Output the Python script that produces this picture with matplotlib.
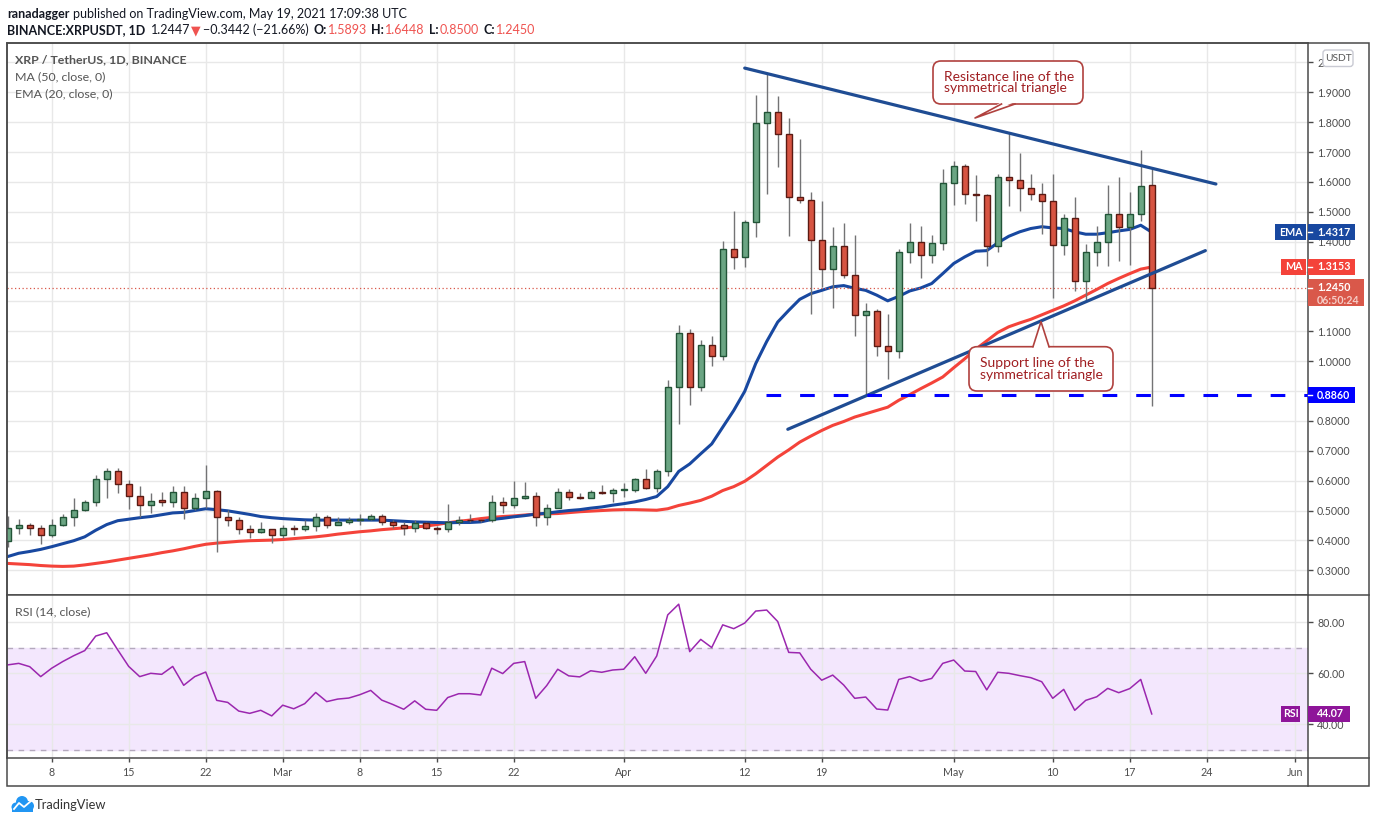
import numpy as np
import pandas as pd
import matplotlib
matplotlib.use("Agg")
import matplotlib.pyplot as plt
from matplotlib import transforms
from matplotlib.patches import FancyBboxPatch, Polygon, Circle, Rectangle
from matplotlib.lines import Line2D

W, H = 1376, 823
plt.rcParams['font.family'] = ['Lato', 'DejaVu Sans']

# ---- values (XRP/USDT daily, Binance) ----
dates = pd.date_range("2021-02-04", "2021-05-19", freq="D")

opens = [0.397, 0.443, 0.450, 0.443, 0.417, 0.450, 0.477, 0.503, 0.527, 0.607,
         0.633, 0.590, 0.550, 0.520, 0.534, 0.530, 0.563, 0.510, 0.543, 0.567,
         0.477, 0.467, 0.437, 0.427, 0.437,
         0.417, 0.443, 0.437, 0.447, 0.480, 0.453, 0.463, 0.467, 0.473, 0.483,
         0.460, 0.450, 0.440, 0.457, 0.440, 0.437, 0.460, 0.470, 0.470, 0.467,
         0.527, 0.517, 0.543, 0.550, 0.480, 0.510, 0.563, 0.547, 0.543, 0.563,
         0.560,
         0.570, 0.570, 0.607, 0.577, 0.632, 0.913, 1.094, 0.913, 1.055, 1.018,
         1.374, 1.350, 1.466, 1.796, 1.835, 1.759, 1.549, 1.541, 1.407, 1.310,
         1.384, 1.290, 1.156, 1.169, 1.050, 1.035, 1.364, 1.400, 1.357, 1.397,
         1.598, 1.652, 1.561, 1.555, 1.386, 1.615, 1.605, 1.580, 1.561, 1.535,
         1.390, 1.478, 1.270, 1.364, 1.400, 1.491, 1.450, 1.494, 1.5893]
highs = [0.481, 0.471, 0.457, 0.450, 0.471, 0.490, 0.541, 0.534, 0.618, 0.641,
         0.641, 0.603, 0.581, 0.558, 0.561, 0.581, 0.581, 0.558, 0.651, 0.570,
         0.503, 0.480, 0.450, 0.460, 0.437,
         0.453, 0.453, 0.470, 0.493, 0.486, 0.477, 0.477, 0.490, 0.487, 0.487,
         0.467, 0.463, 0.467, 0.460, 0.447, 0.521, 0.483, 0.490, 0.473, 0.551,
         0.547, 0.600, 0.597, 0.563, 0.523, 0.577, 0.573, 0.560, 0.570, 0.587,
         0.577,
         0.593, 0.610, 0.640, 0.640, 0.938, 1.120, 1.109, 1.072, 1.085, 1.402,
         1.502, 1.474, 1.891, 1.966, 1.888, 1.813, 1.744, 1.565, 1.536, 1.450,
         1.464, 1.422, 1.196, 1.176, 1.157, 1.375, 1.461, 1.453, 1.422, 1.643,
         1.670, 1.659, 1.622, 1.558, 1.625, 1.767, 1.696, 1.628, 1.598, 1.628,
         1.492, 1.549, 1.392, 1.452, 1.589, 1.616, 1.566, 1.707, 1.6448]
lows = [0.379, 0.422, 0.419, 0.389, 0.412, 0.447, 0.449, 0.500, 0.516, 0.542,
        0.559, 0.506, 0.477, 0.492, 0.516, 0.512, 0.472, 0.503, 0.510, 0.362,
        0.449, 0.422, 0.409, 0.424, 0.392,
        0.409, 0.419, 0.430, 0.432, 0.443, 0.450, 0.455, 0.452, 0.469, 0.452,
        0.440, 0.419, 0.429, 0.437, 0.422, 0.427, 0.452, 0.463, 0.460, 0.463,
        0.493, 0.510, 0.537, 0.449, 0.452, 0.507, 0.534, 0.537, 0.543, 0.557,
        0.527,
        0.547, 0.563, 0.573, 0.561, 0.617, 0.790, 0.854, 0.900, 0.983, 1.005,
        1.307, 1.316, 1.416, 1.561, 1.651, 1.420, 1.530, 1.159, 1.249, 1.179,
        1.277, 1.085, 0.885, 1.018, 0.941, 1.012, 1.330, 1.280, 1.327, 1.371,
        1.522, 1.525, 1.470, 1.319, 1.365, 1.520, 1.503, 1.541, 1.424, 1.212,
        1.356, 1.235, 1.202, 1.319, 1.319, 1.335, 1.321, 1.470, 0.8500]
closes = [0.443, 0.450, 0.443, 0.417, 0.450, 0.477, 0.503, 0.527, 0.607, 0.633,
          0.590, 0.550, 0.520, 0.533, 0.530, 0.563, 0.510, 0.543, 0.567, 0.477,
          0.467, 0.437, 0.427, 0.437, 0.417,
          0.443, 0.437, 0.447, 0.480, 0.453, 0.463, 0.467, 0.473, 0.483, 0.460,
          0.450, 0.440, 0.457, 0.440, 0.437, 0.460, 0.470, 0.467, 0.467, 0.527,
          0.517, 0.543, 0.550, 0.480, 0.510, 0.563, 0.547, 0.543, 0.563, 0.560,
          0.570,
          0.571, 0.607, 0.577, 0.632, 0.913, 1.094, 0.913, 1.055, 1.016, 1.374,
          1.350, 1.466, 1.796, 1.835, 1.759, 1.549, 1.538, 1.407, 1.310, 1.384,
          1.290, 1.156, 1.169, 1.050, 1.035, 1.364, 1.400, 1.357, 1.397, 1.598,
          1.652, 1.561, 1.555, 1.386, 1.615, 1.605, 1.580, 1.561, 1.535, 1.390,
          1.478, 1.270, 1.364, 1.400, 1.491, 1.450, 1.494, 1.588, 1.2450]

ma50 = [0.323, 0.321, 0.319, 0.316, 0.314, 0.313, 0.314, 0.318, 0.323, 0.328,
        0.334, 0.340, 0.346, 0.352, 0.359, 0.365, 0.372, 0.380, 0.387, 0.391,
        0.394, 0.397, 0.399, 0.400, 0.401,
        0.403, 0.406, 0.409, 0.412, 0.416, 0.421, 0.425, 0.429, 0.432, 0.436,
        0.439, 0.442, 0.445, 0.448, 0.453, 0.459, 0.464, 0.468, 0.473, 0.477,
        0.480, 0.482, 0.485, 0.488, 0.489, 0.490, 0.493, 0.496, 0.498, 0.500,
        0.502,
        0.503, 0.503, 0.502, 0.501, 0.506, 0.517, 0.525, 0.534, 0.548, 0.567,
        0.580, 0.598, 0.623, 0.651, 0.679, 0.703, 0.729, 0.749, 0.768, 0.785,
        0.798, 0.813, 0.824, 0.835, 0.846, 0.869, 0.888, 0.908, 0.927, 0.947,
        0.978, 1.008, 1.040, 1.068, 1.096, 1.115, 1.128, 1.140, 1.155, 1.170,
        1.185, 1.202, 1.221, 1.240, 1.260, 1.277, 1.293, 1.308, 1.3153]
ema20 = [0.346, 0.357, 0.363, 0.370, 0.379, 0.389, 0.399, 0.412, 0.434, 0.453,
         0.466, 0.471, 0.476, 0.480, 0.486, 0.492, 0.494, 0.500, 0.506, 0.503,
         0.499, 0.493, 0.487, 0.480, 0.476,
         0.473, 0.471, 0.469, 0.468, 0.468, 0.468, 0.468, 0.468, 0.468, 0.468,
         0.466, 0.464, 0.462, 0.461, 0.460, 0.459, 0.460, 0.460, 0.462, 0.470,
         0.474, 0.479, 0.483, 0.488, 0.491, 0.496, 0.500, 0.503, 0.508, 0.512,
         0.518,
         0.523, 0.529, 0.537, 0.547, 0.580, 0.631, 0.656, 0.690, 0.723, 0.779,
         0.835, 0.899, 0.992, 1.066, 1.131, 1.170, 1.207, 1.226, 1.237, 1.249,
         1.253, 1.244, 1.237, 1.221, 1.202, 1.217, 1.235, 1.245, 1.260, 1.293,
         1.327, 1.349, 1.368, 1.370, 1.396, 1.418, 1.433, 1.444, 1.450, 1.446,
         1.444, 1.433, 1.425, 1.425, 1.430, 1.436, 1.441, 1.455, 1.4317]
rsi14 = [63.3, 63.9, 62.6, 58.7, 62.0, 64.6, 66.9, 68.9, 74.6, 75.9,
         69.2, 62.7, 58.7, 60.0, 59.6, 62.7, 55.3, 58.7, 60.5, 49.4,
         48.6, 45.2, 44.3, 45.5, 43.3,
         47.5, 46.1, 48.1, 52.5, 48.9, 49.9, 50.3, 51.6, 53.3, 49.5,
         47.8, 45.9, 49.2, 45.9, 45.5, 50.5, 52.0, 52.0, 51.5, 62.0,
         59.9, 63.9, 64.6, 50.2, 55.2, 61.6, 59.0, 58.6, 61.0, 60.4,
         61.3,
         61.6, 66.5, 60.0, 66.8, 82.9, 87.1, 68.5, 73.3, 70.1, 79.0,
         77.5, 79.7, 84.4, 84.8, 80.3, 68.2, 68.0, 61.6, 57.3, 59.3,
         55.4, 50.2, 50.7, 46.0, 45.6, 57.6, 58.7, 56.9, 58.0, 63.9,
         65.2, 60.9, 60.7, 53.5, 60.4, 60.0, 59.1, 58.3, 56.7, 50.2,
         53.7, 45.5, 49.4, 50.8, 54.1, 52.4, 54.0, 57.6, 44.07]

tick_dates = ["2021-02-08", "2021-02-15", "2021-02-22", "2021-03-01", "2021-03-08",
              "2021-03-15", "2021-03-22", "2021-04-01", "2021-04-12", "2021-04-19",
              "2021-05-01", "2021-05-10", "2021-05-17", "2021-05-24", "2021-06-01"]
tick_labels = ["8", "15", "22", "Mar", "8", "15", "22", "Apr", "12", "19",
               "May", "10", "17", "24", "Jun"]
price_ticks = [0.3, 0.4, 0.5, 0.6, 0.7, 0.8, 0.9, 1.0, 1.1, 1.2, 1.3, 1.4,
               1.5, 1.6, 1.7, 1.8, 1.9, 2.0]
# labels hidden behind the value tags / USDT badge on the original
price_labels = ["0.3000", "0.4000", "0.5000", "0.6000", "0.7000", "0.8000", "",
                "1.0000", "1.1000", "", "", "1.4000", "1.5000", "1.6000", "1.7000",
                "1.8000", "1.9000", "2"]
rsi_ticks = [40, 60, 80]

# drawings on the chart
resist_dates = ["2021-04-12 00:00", "2021-05-24 20:00"]
resist_prices = [1.981, 1.593]
support_dates = ["2021-04-15 22:00", "2021-05-23 21:00"]
support_prices = [0.772, 1.370]
level_start = "2021-04-13 22:00"
level_price = 0.886
last_price = 1.2450
countdown = "06:50:24"


def day_of(d):
    return (pd.Timestamp(d) - dates[0]) / pd.Timedelta(days=1)


x = np.array([day_of(d) for d in dates])
tick_x = [day_of(d) for d in tick_dates]


def fx(px):
    return px / W


def fy(py):
    return 1 - py / H


FRAME = '#4a4a4a'
TXT = '#4d4d4d'
UP, UP_EDGE = '#6ba583', '#225437'
DN, DN_EDGE = '#d75442', '#5b1a13'
EMA_C, MA_C = '#1848a0', '#f4433a'
FS_AX = 7.7

fig = plt.figure(figsize=(W / 100, H / 100), dpi=100)
fig.patch.set_facecolor('white')
pix = transforms.IdentityTransform()

L, R = 7, 1307.5
ax = fig.add_axes([fx(L), fy(595), (R - L) / W, (595 - 43) / H])
rx = fig.add_axes([fx(L), fy(758), (R - L) / W, (758 - 595) / H], sharex=ax)

for a in (ax, rx):
    for s in a.spines.values():
        s.set_color(FRAME)
        s.set_linewidth(1.1)
    a.grid(True, color='#e8e8e8', lw=1)
    a.set_axisbelow(True)
    a.yaxis.tick_right()
    a.tick_params(axis='y', direction='out', length=3.4, width=1, color=FRAME,
                  labelsize=FS_AX, labelcolor=TXT, pad=3.5)

ax.set_xlim(-0.064, 118.16)
ax.set_ylim(0.2173, 2.065)
ax.set_yticks(price_ticks, price_labels)
ax.set_xticks(tick_x)
ax.tick_params(axis='x', length=0, labelbottom=False)

rx.set_ylim(26.8, 90.7)
rx.set_yticks(rsi_ticks, [f'{v:.2f}' for v in rsi_ticks])
rx.set_xticks(tick_x, tick_labels)
rx.tick_params(axis='x', direction='out', length=2.8, width=1, color=FRAME,
               labelsize=FS_AX, labelcolor=TXT, pad=3.5)

# ---- price panel ----
o, h, l, c = map(np.array, (opens, highs, lows, closes))
up = c >= o
ax.plot(x, ma50, color=MA_C, lw=2.2, zorder=2, solid_capstyle='round')
ax.plot(x, ema20, color=EMA_C, lw=2.2, zorder=2, solid_capstyle='round')
ax.vlines(x, l, h, color='#737375', lw=1, zorder=3)
ax.bar(x, np.maximum(np.abs(c - o), 0.002), bottom=np.minimum(o, c), width=0.58,
       color=np.where(up, UP, DN), edgecolor=np.where(up, UP_EDGE, DN_EDGE),
       linewidth=1, zorder=4)

ax.axhline(last_price, color='#d9584a', ls=(0, (1, 2)), lw=0.9, zorder=2)
ax.plot([day_of(d) for d in resist_dates], resist_prices, color='#1f4c93',
        lw=2.3, zorder=6, solid_capstyle='round')
ax.plot([day_of(d) for d in support_dates], support_prices, color='#1f4c93',
        lw=2.3, zorder=6, solid_capstyle='round')
ax.plot([day_of(level_start), 118.16], [level_price, level_price], color='#0000ff',
        lw=2.2, ls=(0, (4.8, 6.2)), zorder=6)

fig.text(fx(15), fy(60), 'XRP / TetherUS, 1D, BINANCE', fontsize=8.95,
         fontweight='bold', color='#555555', va='center')
fig.text(fx(15), fy(77), 'MA (50, close, 0)', fontsize=8.95, color='#555555', va='center')
fig.text(fx(15), fy(94), 'EMA (20, close, 0)', fontsize=8.95, color='#555555', va='center')

# ---- RSI panel ----
rx.axhspan(30, 70, color='#f3e7fd', zorder=0)
for lvl in (30, 70):
    rx.axhline(lvl, color='#b4a9bd', lw=1, ls=(0, (4, 4)), zorder=1)
rx.plot(x, rsi14, color='#9b27af', lw=1.1, zorder=3)
fig.text(fx(15), fy(612), 'RSI (14, close)', fontsize=8.95, color='#555555', va='center')


# ---- right scale tags (boxes placed at the value via the axis transform) ----
def tag(axis, value, text, fc, x1=1355, hh=16.5, name=None, nx=None, tick=True):
    yp = axis.transData.transform((0, value))[1]
    fig.add_artist(Rectangle((R, yp - hh / 2), x1 - R, hh, transform=pix,
                             fc=fc, ec='none', zorder=8))
    if tick:
        fig.add_artist(Line2D([R, R + 4.7], [yp, yp], transform=pix,
                              color='white', lw=1, zorder=9))
    fig.text(1317 / W, yp / H, text, fontsize=FS_AX, fontweight='bold',
             color='white', va='center', ha='left', zorder=9)
    if name:
        fig.add_artist(Rectangle((nx[0], yp - hh / 2), nx[1] - nx[0], hh,
                                 transform=pix, fc=fc, ec='none', zorder=8))
        fig.text((nx[0] + nx[1]) / 2 / W, yp / H, name, fontsize=FS_AX,
                 fontweight='bold', color='white', va='center', ha='center', zorder=9)


tag(ax, ema20[-1], f'{ema20[-1]:.4f}', EMA_C, name='EMA', nx=(1275.3, 1305.7))
tag(ax, ma50[-1], f'{ma50[-1]:.4f}', MA_C, hh=15.6, name='MA', nx=(1281.3, 1305.7))
tag(ax, level_price, f'{level_price:.4f}', '#0000ff')
tag(rx, rsi14[-1], f'{rsi14[-1]:.2f}', '#8e1599', x1=1350, hh=16,
    name='RSI', nx=(1281, 1300), tick=False)

yp = ax.transData.transform((0, last_price))[1]
fig.add_artist(Rectangle((R, yp - 18.4), 1364.3 - R, 27.4, transform=pix,
                         fc='#d9584a', ec='none', zorder=8))
fig.add_artist(Line2D([R, R + 4.7], [yp, yp], transform=pix, color='white', lw=1, zorder=9))
fig.text(1317 / W, yp / H, f'{last_price:.4f}', fontsize=FS_AX, fontweight='bold',
         color='white', va='center', ha='left', zorder=9)
fig.text(1317 / W, (yp - 12.7) / H, countdown, fontsize=FS_AX, fontweight='bold',
         color='#f6cdc7', va='center', ha='left', zorder=9)

# ---- frame ----
fig.add_artist(Rectangle((fx(7), fy(786)), fx(1369) - fx(7), fy(43) - fy(786),
                         transform=fig.transFigure, fill=False, ec=FRAME, lw=1.1))
for y0 in (595, 758):
    fig.add_artist(Line2D([fx(R), fx(1369)], [fy(y0), fy(y0)], color=FRAME, lw=1.1))
fig.add_artist(Line2D([fx(R), fx(R)], [fy(758), fy(786)], color=FRAME, lw=1.1))

fig.add_artist(FancyBboxPatch((1323, H - 66.5), 30, 16.5,
                              boxstyle='round,pad=0,rounding_size=3',
                              transform=pix, fc='white', ec='#c9cad3', lw=1, zorder=5))
fig.text(fx(1338), fy(58.3), 'USDT', fontsize=7.4, color='#555555', ha='center',
         va='center', zorder=6)

# ---- callouts ----
CALL = '#b0413e'


def callout(box, base, tip, text):
    x0, y0, x1, y1 = box
    fig.add_artist(FancyBboxPatch((x0, H - y1), x1 - x0, y1 - y0,
                                  boxstyle='round,pad=0,rounding_size=8',
                                  transform=pix, fc='white', ec=CALL, lw=1.2, zorder=20))
    yb = base[2]
    inner = 2 if tip[1] > yb else -2
    fig.add_artist(Polygon([(base[0], H - yb + inner), (tip[0], H - tip[1]),
                            (base[1], H - yb + inner)], closed=True,
                           transform=pix, fc='white', ec='none', zorder=21))
    fig.add_artist(Line2D([base[0], tip[0], base[1]], [H - yb, H - tip[1], H - yb],
                          transform=pix, color=CALL, lw=1.2, zorder=22))
    fig.text(fx(x0 + 11), fy((y0 + y1) / 2), text, fontsize=10, color='#a01f22',
             va='center', ha='left', linespacing=0.95, zorder=23)


callout((933, 61, 1083, 104), (1001.5, 1015, 104), (975, 118),
        'Resistance line of the\nsymmetrical triangle')
callout((969, 346.7, 1113, 391), (1033, 1049, 346.7), (1041, 321.7),
        'Support line of the\nsymmetrical triangle')

# ---- header ----
renderer = fig.canvas.get_renderer()


def inline(parts, x_px, y_px, size):
    xpos = x_px
    for s, weight, color, gap in parts:
        t = fig.text(fx(xpos), fy(y_px), s, fontsize=size, fontweight=weight,
                     color=color, va='baseline', ha='left')
        xpos += t.get_window_extent(renderer).width + gap


RED = '#ef5350'
BLK = '#131722'
inline([('ranadagger', 'bold', BLK, 3.5),
        ('published on TradingView.com, May 19, 2021 17:09:38 UTC', 'normal', BLK, 0)],
       7, 18.5, 9.0)
inline([('BINANCE:XRPUSDT, 1D', 'bold', BLK, 5.5),
        ('1.2447', 'normal', BLK, 1),
        ('\u25bc', 'normal', RED, 2),
        ('\u22120.3442 (\u221221.66%)', 'normal', BLK, 4.5),
        ('O:', 'bold', BLK, 1), ('1.5893', 'normal', RED, 4.5),
        ('H:', 'bold', BLK, 1), ('1.6448', 'normal', RED, 4.5),
        ('L:', 'bold', BLK, 1), ('0.8500', 'normal', RED, 4.5),
        ('C:', 'bold', BLK, 1), ('1.2450', 'normal', RED, 0)],
       7, 34.5, 9.0)

# ---- footer logo ----
LOGO = '#2196f3'
for cx, cy, r in ((16, 807, 4.5), (22, 802, 6), (29, 806, 5)):
    fig.add_artist(Circle((cx, H - cy), r, transform=pix, fc=LOGO, ec='none'))
fig.add_artist(Rectangle((12, H - 812), 21, 5, transform=pix, fc=LOGO, ec='none'))
fig.add_artist(Line2D([14, 19, 24, 31], [H - 809, H - 803, H - 807, H - 801],
                      transform=pix, color='white', lw=1.3))
fig.text(fx(35), fy(805), 'TradingView', fontsize=9.3, color='#333333', va='center')

fig.savefig('out.png', dpi=100, facecolor='white')
